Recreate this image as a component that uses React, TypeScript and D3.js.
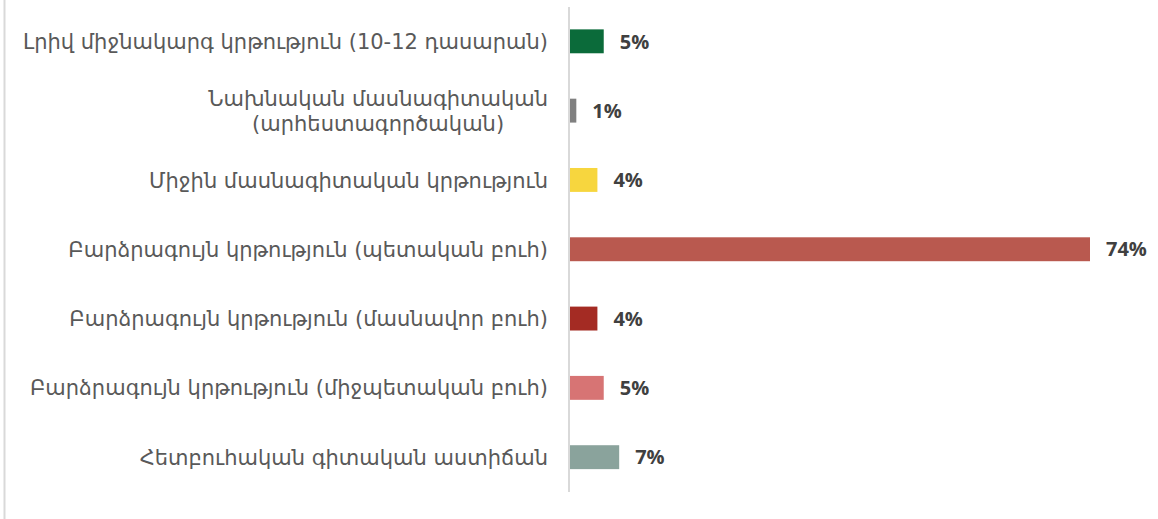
import * as d3 from "d3";
import { useEffect, useRef } from "react";

const categories = [
    ["Լրիվ միջնակարգ կրթություն (10-12 դասարան)"],
    ["Նախնական մասնագիտական", "(արհեստագործական)"],
    ["Միջին մասնագիտական կրթություն"],
    ["Բարձրագույն կրթություն (պետական բուհ)"],
    ["Բարձրագույն կրթություն (մասնավոր բուհ)"],
    ["Բարձրագույն կրթություն (միջպետական բուհ)"],
    ["Հետբուհական գիտական աստիճան"],
];
const values = [4.8, 0.9, 3.9, 74, 3.9, 4.8, 7.0];
const colors = ["#0b6b3a", "#808080", "#f7d63e", "#b9594f", "#a42b23", "#d77474", "#8aa39c"];

export default function App() {
    const ref = useRef<SVGSVGElement>(null);
    const width = 1158, height = 519;

    useEffect(() => {
        const svg = d3.select(ref.current);
        svg.selectAll("*").remove();

        const x = d3.scaleLinear().domain([0, 74]).range([570, 1090]);
        const y = d3.scaleBand<number>()
            .domain(d3.range(values.length))
            .range([6.5, 492])
            .paddingInner(0.655)
            .paddingOuter(0.33);

        // chart border on the left
        svg.append("line")
            .attr("x1", 4.5).attr("x2", 4.5)
            .attr("y1", 0).attr("y2", height)
            .attr("stroke", "#d9d9d9")
            .attr("stroke-width", 2);

        svg.selectAll("rect.bar")
            .data(values)
            .join("rect")
            .attr("class", "bar")
            .attr("x", x(0))
            .attr("y", (_d, i) => y(i)!)
            .attr("width", d => x(d) - x(0))
            .attr("height", y.bandwidth())
            .attr("fill", (_d, i) => colors[i]);

        svg.append("line")
            .attr("x1", 569).attr("x2", 569)
            .attr("y1", 7).attr("y2", 492)
            .attr("stroke", "#d9d9d9")
            .attr("stroke-width", 2);

        svg.selectAll("text.val")
            .data(values)
            .join("text")
            .attr("class", "val")
            .attr("x", d => x(d) + 16)
            .attr("y", (_d, i) => y(i)! + y.bandwidth() / 2)
            .attr("dy", "0.36em")
            .attr("font-family", "'Open Sans', sans-serif")
            .attr("font-weight", "bold")
            .attr("font-size", 20)
            .attr("fill", "#404040")
            .text(d => Math.round(d) + "%");

        const labelRight = 548;
        const lineH = 25;
        categories.forEach((lines, i) => {
            const cy = y(i)! + y.bandwidth() / 2;
            const g = svg.append("g");
            const texts = lines.map((line, j) =>
                g.append("text")
                    .attr("y", cy + (j - (lines.length - 1) / 2) * lineH)
                    .attr("dy", "0.36em")
                    .attr("font-family", "'DejaVu Sans', sans-serif")
                    .attr("font-size", 21)
                    .attr("fill", "#595959")
                    .attr("text-anchor", "middle")
                    .text(line)
            );
            const maxW = d3.max(texts, t => (t.node() as SVGTextElement).getComputedTextLength()) || 0;
            texts.forEach(t => t.attr("x", labelRight - maxW / 2));
        });
    }, []);

    return (
        <div>
            <svg ref={ref} width={width} height={height}
                style={{ position: "absolute", left: 0, top: 0, background: "#fff" }} />
        </div>
    );
}
